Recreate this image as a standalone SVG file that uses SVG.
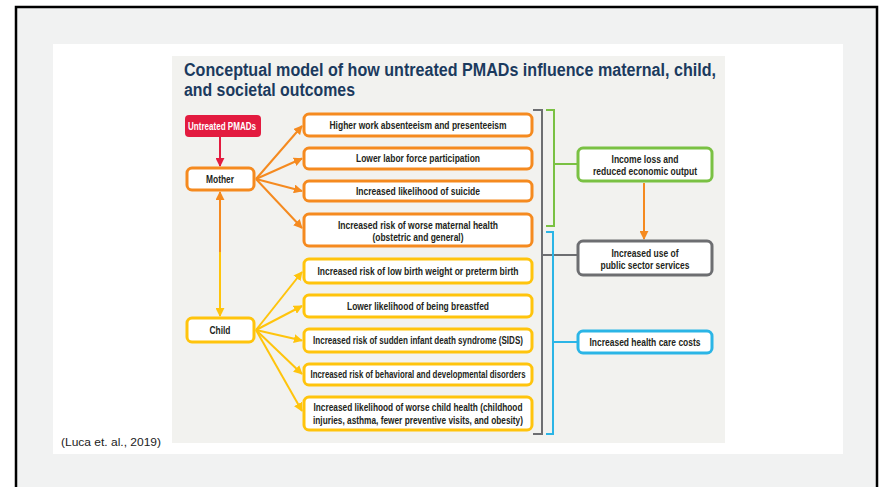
<svg xmlns="http://www.w3.org/2000/svg" width="882" height="487" viewBox="0 0 882 487">
<style>
.box{fill:#fff;stroke-width:3}
.or{stroke:#f58a1f}
.ye{stroke:#ffc40c}
.t{font-family:"Liberation Sans",Arial,sans-serif;font-weight:bold;font-size:10.5px;fill:#231f20;text-anchor:middle}
.ln{fill:none;stroke-width:2}
.title{font-family:"Liberation Sans",Arial,sans-serif;font-weight:bold;font-size:18px;fill:#1b3a5e}
</style>
<defs>
<marker id="aO" viewBox="0 0 10 10" refX="9" refY="5" markerWidth="9" markerHeight="9" markerUnits="userSpaceOnUse" orient="auto-start-reverse"><path d="M0,0 L10,5 L0,10 z" fill="#f58a1f"/></marker>
<marker id="aY" viewBox="0 0 10 10" refX="9" refY="5" markerWidth="9" markerHeight="9" markerUnits="userSpaceOnUse" orient="auto-start-reverse"><path d="M0,0 L10,5 L0,10 z" fill="#ffc40c"/></marker>
<marker id="aR" viewBox="0 0 10 10" refX="9" refY="5" markerWidth="9" markerHeight="9" markerUnits="userSpaceOnUse" orient="auto"><path d="M0,0 L10,5 L0,10 z" fill="#e31b3f"/></marker>
</defs>
<rect x="0" y="0" width="882" height="487" fill="#fff"/>
<rect x="16" y="7" width="861" height="490" fill="#f1f2f2" stroke="#000" stroke-width="2.5"/>
<rect x="53" y="44" width="790" height="410" fill="#fff"/>
<rect x="172" y="56" width="553" height="387" fill="#f2f2ef"/>
<text class="title" x="184" y="76" textLength="532" lengthAdjust="spacingAndGlyphs">Conceptual model of how untreated PMADs influence maternal, child,</text>
<text class="title" x="184" y="95.5" textLength="171" lengthAdjust="spacingAndGlyphs">and societal outcomes</text>
<text x="61" y="446" font-family="'Liberation Sans',Arial,sans-serif" font-size="11.5" fill="#222" textLength="100" lengthAdjust="spacingAndGlyphs">(Luca et. al., 2019)</text>

<g id="connectors">
<line class="ln" x1="220" y1="137" x2="220" y2="166" stroke="#e31b3f" marker-end="url(#aR)"/>
<line class="ln" x1="220" y1="253" x2="220" y2="192" stroke="#f58a1f" marker-end="url(#aO)"/>
<line class="ln" x1="220" y1="252" x2="220" y2="316" stroke="#ffc40c" marker-end="url(#aY)"/>
<line class="ln" x1="256" y1="179" x2="302" y2="126" stroke="#f58a1f" marker-end="url(#aO)"/>
<line class="ln" x1="256" y1="179" x2="302" y2="158.5" stroke="#f58a1f" marker-end="url(#aO)"/>
<line class="ln" x1="256" y1="179" x2="302" y2="191" stroke="#f58a1f" marker-end="url(#aO)"/>
<line class="ln" x1="256" y1="179" x2="302" y2="228" stroke="#f58a1f" marker-end="url(#aO)"/>
<line class="ln" x1="256" y1="330" x2="302" y2="272" stroke="#ffc40c" marker-end="url(#aY)"/>
<line class="ln" x1="256" y1="330" x2="302" y2="306" stroke="#ffc40c" marker-end="url(#aY)"/>
<line class="ln" x1="256" y1="330" x2="302" y2="340.5" stroke="#ffc40c" marker-end="url(#aY)"/>
<line class="ln" x1="256" y1="330" x2="302" y2="374" stroke="#ffc40c" marker-end="url(#aY)"/>
<line class="ln" x1="256" y1="330" x2="302" y2="411" stroke="#ffc40c" marker-end="url(#aY)"/>
<path class="ln" d="M533,110 H542 V434 H533 M542,255 H578" stroke="#6d6e71"/>
<path class="ln" d="M546,110 H554 V226 H546 M554,164 H578" stroke="#7ac143"/>
<path class="ln" d="M546,232 H553 V434 H546 M553,342 H578" stroke="#2bb5e6"/>
<line class="ln" x1="644" y1="183" x2="644" y2="239" stroke="#f58a1f" marker-end="url(#aO)"/>
</g>

<g id="untreated">
<rect x="185" y="115" width="76" height="22" rx="4" fill="#e31b3f"/>
<text class="t" x="222" y="129.5" style="fill:#fff" textLength="68" lengthAdjust="spacingAndGlyphs">Untreated PMADs</text>
</g>
<g id="mother">
<rect class="box or" x="187" y="168" width="67" height="22" rx="5"/>
<text class="t" x="220" y="182.5" textLength="28" lengthAdjust="spacingAndGlyphs">Mother</text>
</g>
<g id="child">
<rect class="box ye" x="187" y="318" width="67" height="24" rx="5"/>
<text class="t" x="220" y="333.5" textLength="21" lengthAdjust="spacingAndGlyphs">Child</text>
</g>

<g id="m1"><rect class="box or" x="304" y="114" width="228" height="22" rx="5"/><text class="t" x="418" y="128.5" textLength="177" lengthAdjust="spacingAndGlyphs">Higher work absenteeism and presenteeism</text></g>
<g id="m2"><rect class="box or" x="304" y="148" width="228" height="21" rx="5"/><text class="t" x="418" y="162" textLength="124" lengthAdjust="spacingAndGlyphs">Lower labor force participation</text></g>
<g id="m3"><rect class="box or" x="304" y="181" width="228" height="20" rx="5"/><text class="t" x="418" y="194.5" textLength="124" lengthAdjust="spacingAndGlyphs">Increased likelihood of suicide</text></g>
<g id="m4"><rect class="box or" x="304" y="214" width="228" height="32" rx="5"/><text class="t" x="418" y="228.5" textLength="160" lengthAdjust="spacingAndGlyphs">Increased risk of worse maternal health</text><text class="t" x="418" y="240.5" textLength="91" lengthAdjust="spacingAndGlyphs">(obstetric and general)</text></g>

<g id="c1"><rect class="box ye" x="304" y="259" width="228" height="24" rx="5"/><text class="t" x="418" y="274.5" textLength="201" lengthAdjust="spacingAndGlyphs">Increased risk of low birth weight or preterm birth</text></g>
<g id="c2"><rect class="box ye" x="304" y="295" width="228" height="22" rx="5"/><text class="t" x="418" y="309.5" textLength="142" lengthAdjust="spacingAndGlyphs">Lower likelihood of being breastfed</text></g>
<g id="c3"><rect class="box ye" x="304" y="329" width="228" height="23" rx="5"/><text class="t" x="418" y="344" textLength="210" lengthAdjust="spacingAndGlyphs">Increased risk of sudden infant death syndrome (SIDS)</text></g>
<g id="c4"><rect class="box ye" x="304" y="364" width="228" height="21" rx="5"/><text class="t" x="418" y="378" textLength="215" lengthAdjust="spacingAndGlyphs">Increased risk of behavioral and developmental disorders</text></g>
<g id="c5"><rect class="box ye" x="304" y="397" width="228" height="33" rx="5"/><text class="t" x="418" y="410.5" textLength="209" lengthAdjust="spacingAndGlyphs">Increased likelihood of worse child health (childhood</text><text class="t" x="418" y="423.5" textLength="210" lengthAdjust="spacingAndGlyphs">injuries, asthma, fewer preventive visits, and obesity)</text></g>

<g id="income"><rect class="box" x="578" y="148" width="134" height="33" rx="5" stroke="#7ac143"/><text class="t" x="645" y="162.5" textLength="67" lengthAdjust="spacingAndGlyphs">Income loss and</text><text class="t" x="645" y="174.5" textLength="104" lengthAdjust="spacingAndGlyphs">reduced economic output</text></g>
<g id="public"><rect class="box" x="578" y="241" width="134" height="34" rx="5" stroke="#6d6e71"/><text class="t" x="645" y="256.5" textLength="67" lengthAdjust="spacingAndGlyphs">Increased use of</text><text class="t" x="645" y="268.5" textLength="89" lengthAdjust="spacingAndGlyphs">public sector services</text></g>
<g id="health"><rect class="box" x="578" y="331" width="134" height="22" rx="5" stroke="#2bb5e6"/><text class="t" x="645" y="345.5" textLength="111" lengthAdjust="spacingAndGlyphs">Increased health care costs</text></g>
</svg>
